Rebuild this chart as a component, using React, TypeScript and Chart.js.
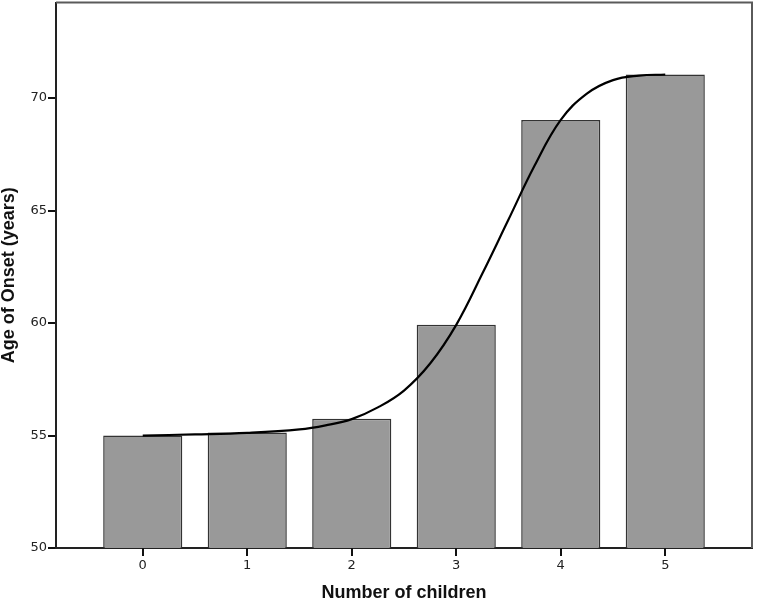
import React, { useEffect, useRef } from 'react';
import { Chart, registerables } from 'chart.js';

Chart.register(...registerables);

// bar data
const children = [0, 1, 2, 3, 4, 5];
const ageOfOnset = [55.0, 55.13, 55.75, 59.92, 69.03, 71.05];

// fitted curve
const curveX = [0, 0.5, 1, 1.5, 1.75, 2, 2.25, 2.5, 2.75, 3, 3.25, 3.5, 3.75, 4, 4.25, 4.5, 4.75, 5];
const curveY = [55.0, 55.05, 55.12, 55.27, 55.45, 55.73, 56.25, 57.0, 58.2, 59.92, 62.2, 64.6, 67.0, 69.03, 70.2, 70.8, 71.0, 71.05];

const yTicks = [50, 55, 60, 65, 70];

const tickFont = { family: '"DejaVu Sans", sans-serif', size: 13 };
const titleFont = { family: '"Liberation Sans", Arial, sans-serif', size: 18, weight: 'bold' as const };

// top and right sides of the frame, plus the x tick marks
const framePlugin = {
  id: 'frame',
  afterDraw(chart: Chart) {
    const { ctx, chartArea, scales } = chart;
    ctx.save();
    ctx.strokeStyle = '#5a5a5a';
    ctx.lineWidth = 2;
    ctx.beginPath();
    ctx.moveTo(chartArea.left, chartArea.top);
    ctx.lineTo(chartArea.right, chartArea.top);
    ctx.lineTo(chartArea.right, chartArea.bottom);
    ctx.stroke();

    ctx.strokeStyle = '#111';
    ctx.lineWidth = 2;
    ctx.beginPath();
    children.forEach((c) => {
      const px = Math.round(scales.x.getPixelForValue(c));
      ctx.moveTo(px, chartArea.bottom);
      ctx.lineTo(px, chartArea.bottom + 8);
    });
    ctx.stroke();
    ctx.restore();
  },
};

const App: React.FC = () => {
  const chartRef = useRef<HTMLCanvasElement | null>(null);
  const chartInstance = useRef<Chart | null>(null);

  useEffect(() => {
    if (!chartRef.current) return;
    const ctx = chartRef.current.getContext('2d');
    if (!ctx) return;

    if (chartInstance.current) {
      chartInstance.current.destroy();
    }

    chartInstance.current = new Chart(ctx, {
      type: 'bar',
      data: {
        datasets: [
          {
            type: 'line',
            label: 'Fit',
            data: curveX.map((x, i) => ({ x, y: curveY[i] })),
            borderColor: '#000',
            borderWidth: 2.2,
            pointRadius: 0,
            tension: 0.4,
            fill: false,
            order: 0,
          },
          {
            type: 'bar',
            label: 'Age of Onset',
            data: children.map((x, i) => ({ x, y: ageOfOnset[i] })),
            backgroundColor: '#999999',
            borderColor: '#333333',
            borderWidth: 1.5,
            barPercentage: 0.757,
            categoryPercentage: 1,
            order: 1,
          },
        ],
      } as any,
      options: {
        animation: false,
        responsive: true,
        maintainAspectRatio: false,
        layout: { padding: { top: 2.5, right: 6, left: 0, bottom: 0 } },
        plugins: {
          legend: { display: false },
          tooltip: { enabled: false },
        },
        scales: {
          x: {
            type: 'linear',
            offset: false,
            min: -0.83,
            max: 5.83,
            afterBuildTicks: (axis: any) => {
              axis.ticks = children.map((v) => ({ value: v }));
            },
            afterFit: (scale: any) => {
              scale.height = 56;
              scale.paddingLeft = 0;
              scale.paddingRight = 0;
            },
            ticks: {
              color: '#222',
              font: tickFont,
              padding: 2,
              callback: (v: any) => String(v),
            },
            grid: {
              offset: false,
              drawOnChartArea: false,
              drawTicks: true,
              tickLength: 8,
              color: '#111',
              lineWidth: 2,
            },
            border: { display: true, color: '#222', width: 2 },
            title: {
              display: true,
              text: 'Number of children',
              color: '#111',
              font: titleFont,
              padding: 0,
            },
          },
          y: {
            type: 'linear',
            min: 50,
            max: 74.25,
            afterBuildTicks: (axis: any) => {
              axis.ticks = yTicks.map((v) => ({ value: v }));
            },
            afterFit: (scale: any) => {
              scale.width = 56;
              scale.paddingTop = 0;
              scale.paddingBottom = 0;
            },
            ticks: {
              color: '#222',
              font: tickFont,
              padding: 1,
              callback: (v: any) => String(v),
            },
            grid: {
              drawOnChartArea: false,
              drawTicks: true,
              tickLength: 8,
              color: '#111',
              lineWidth: 2,
            },
            border: { display: true, color: '#222', width: 2 },
            title: {
              display: true,
              text: 'Age of Onset (years)',
              color: '#111',
              font: { ...titleFont, lineHeight: 0.95 },
              padding: 0,
            },
          },
        },
      },
      plugins: [framePlugin],
    });

    return () => {
      if (chartInstance.current) {
        chartInstance.current.destroy();
        chartInstance.current = null;
      }
    };
  }, []);

  return (
    <div style={{ position: 'absolute', left: 0, top: 0, width: 758, height: 604, background: '#fff' }}>
      <canvas ref={chartRef}></canvas>
    </div>
  );
};

export default App;
